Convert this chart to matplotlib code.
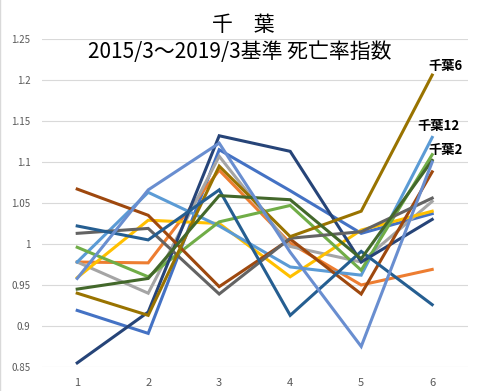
import matplotlib
matplotlib.use('Agg')
import matplotlib.pyplot as plt
from matplotlib.lines import Line2D

plt.rcParams['font.family'] = ['Noto Sans CJK JP', 'DejaVu Sans']

# Categories on the x axis
x_values = [1, 2, 3, 4, 5, 6]

# Death-rate index per series
s_blue = [0.919, 0.891, 1.115, 1.065, 1.013, 1.037]
s_orange = [0.978, 0.977, 1.090, 1.001, 0.950, 0.969]
s_gray = [0.978, 0.940, 1.107, 0.997, 0.978, 1.052]
s_gold = [0.959, 1.029, 1.025, 0.960, 1.017, 1.040]
s_lightblue = [0.978, 1.063, 1.022, 0.972, 0.962, 1.130]
s_green = [0.996, 0.960, 1.027, 1.047, 0.968, 1.109]
s_navy = [0.855, 0.917, 1.132, 1.113, 0.978, 1.030]
s_brown = [1.067, 1.035, 0.948, 1.006, 0.939, 1.088]
s_darkgray = [1.013, 1.019, 0.939, 1.007, 1.015, 1.056]
s_darkgold = [0.940, 0.913, 1.095, 1.009, 1.040, 1.206]
s_darkblue = [1.022, 1.005, 1.066, 0.913, 0.991, 0.926]
s_darkgreen = [0.945, 0.958, 1.059, 1.054, 0.982, 1.102]
s_periwinkle = [0.958, 1.066, 1.123, 0.990, 0.875, 1.100]

series = [s_blue, s_orange, s_gray, s_gold, s_lightblue, s_green, s_navy,
          s_brown, s_darkgray, s_darkgold, s_darkblue, s_darkgreen, s_periwinkle]
colors = ['#4472C4', '#ED7D31', '#A5A5A5', '#FFC000', '#5B9BD5', '#70AD47',
          '#264478', '#9E480E', '#636363', '#997300', '#255E91', '#43682B', '#698ED0']

# end-of-line labels: series index -> (text, offset in pixels)
end_labels = {9: ('千葉6', (13, 9)), 4: ('千葉12', (6, 11)), 5: ('千葉2', (13, 5))}

y_ticks = [0.85, 0.9, 0.95, 1.0, 1.05, 1.1, 1.15, 1.2, 1.25]
y_tick_labels = ['0.85', '0.9', '0.95', '1', '1.05', '1.1', '1.15', '1.2', '1.25']

fig = plt.figure(figsize=(4.81, 3.91), dpi=100)
ax = fig.add_axes([41.7 / 481, 24 / 391, 426 / 481, 328 / 391])

for vals, c in zip(series, colors):
    ax.plot(x_values, vals, color=c, linewidth=2.2, solid_joinstyle='miter', zorder=3)

for idx, (txt, off) in end_labels.items():
    ax.annotate(txt, (x_values[-1], series[idx][-1]), xytext=off, textcoords='offset pixels',
                ha='center', va='center', fontsize=9.5, fontweight='bold', color='black', zorder=5)

ax.set_xlim(0.5, 6.5)
ax.set_ylim(0.85, 1.25)
ax.set_yticks(y_ticks)
ax.set_yticklabels(y_tick_labels)
ax.set_xticks(x_values)
ax.set_xticklabels([str(v) for v in x_values])
ax.grid(axis='y', color='#D9D9D9', linewidth=0.8, zorder=0)
ax.set_axisbelow(True)
for s in ax.spines.values():
    s.set_visible(False)
ax.tick_params(axis='y', length=0, pad=8, labelsize=7, labelcolor='#595959')
ax.tick_params(axis='x', length=0, pad=8, labelsize=8, labelcolor='#595959')

# two-line title
fig.text(243 / 481, 1 - 25 / 391, '千　葉', ha='center', va='center', fontsize=15)
fig.text(240 / 481, 1 - 52 / 391, '2015/3～2019/3基準 死亡率指数', ha='center', va='center', fontsize=15)

# thin chart border on the left edge
fig.add_artist(Line2D([0.001, 0.001], [0, 1], color='#D9D9D9', linewidth=1))

fig.savefig('out.png', dpi=100)
